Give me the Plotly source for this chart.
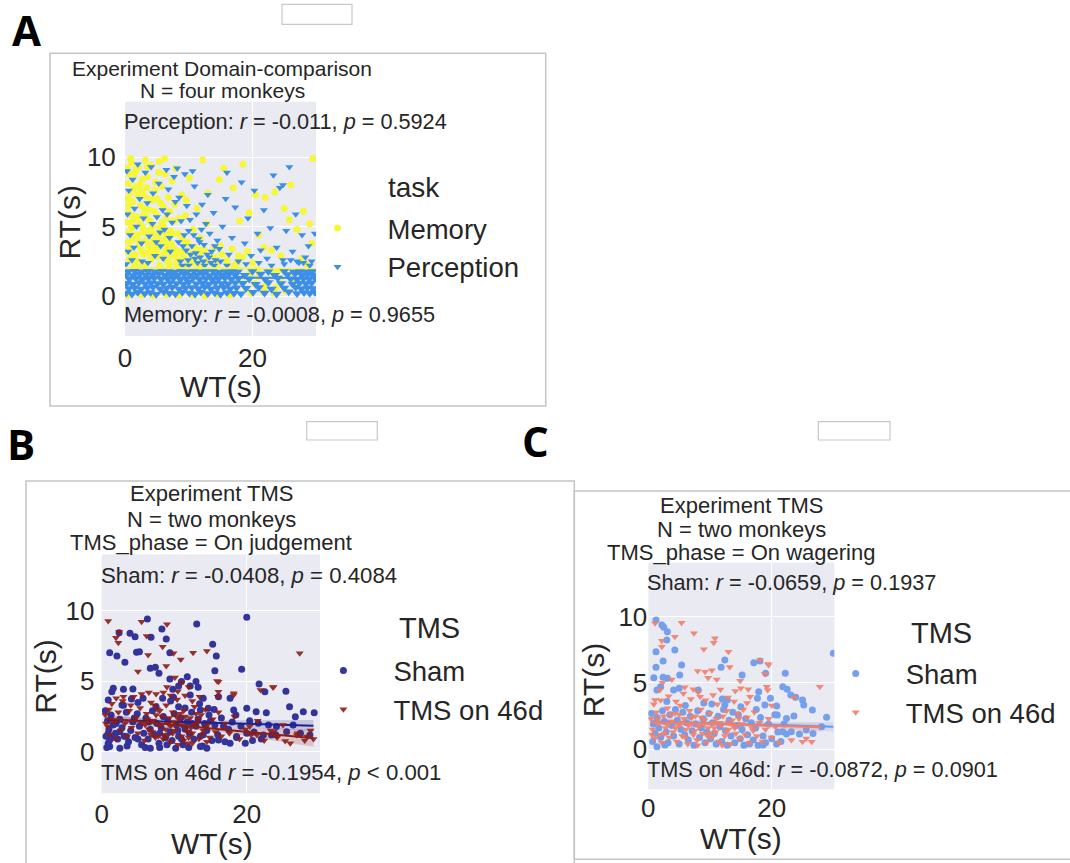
import plotly.graph_objects as go

W, H = 1070, 863

# ---------------- DATA ----------------
# Panel A: Experiment Domain-comparison (WT vs RT)
a_memory_upper = [
    (0.3, 9.2), (0.5, 8.1), (0.8, 7.4), (1.0, 9.6), (1.2, 6.8), (0.4, 6.0), (0.9, 5.2), (1.5, 8.8), (1.8, 7.9),
    (2.1, 9.3), (2.4, 6.5), (2.7, 8.4), (0.6, 4.6), (1.3, 4.1), (1.9, 5.7), (2.2, 3.6), (2.8, 4.9), (0.2, 3.2),
    (0.7, 2.6), (1.6, 3.0), (2.5, 2.4), (3.0, 7.2), (3.2, 9.8), (0.4, 7.0), (1.1, 2.9), (2.9, 5.8), (1.4, 5.5),
    (2.0, 4.4), (0.5, 3.9), (2.6, 3.3), (3.5, 8.6), (3.8, 6.2), (4.1, 9.4), (4.4, 5.1), (4.7, 7.6), (5.0, 4.3),
    (5.3, 8.9), (5.6, 6.7), (5.9, 3.8), (6.2, 9.9), (6.5, 5.6), (6.8, 7.1), (7.1, 4.7), (7.4, 8.3), (7.7, 3.4),
    (3.3, 4.0), (3.6, 3.1), (4.0, 2.6), (4.3, 6.9), (4.6, 3.7), (4.9, 5.9), (5.2, 2.8), (5.5, 4.9), (5.8, 5.3),
    (6.1, 3.0), (6.4, 4.1), (6.7, 2.5), (7.0, 6.1), (7.3, 2.9), (7.6, 5.4), (3.9, 5.4), (4.2, 4.6), (5.1, 3.4),
    (5.7, 7.9), (6.0, 6.4), (6.6, 3.6), (3.4, 7.8), (4.8, 8.2), (6.3, 8.8), (7.8, 6.6), (8.0, 9.2), (5.4, 9.7),
    (0.9, 9.9), (1.7, 9.1), (2.3, 8.0), (3.1, 6.3), (0.3, 5.3), (1.0, 4.9), (1.6, 4.4), (2.4, 5.2), (3.3, 5.7),
    (4.0, 4.8), (4.5, 4.0), (5.2, 4.4), (5.9, 4.6), (6.4, 3.3), (7.2, 3.8), (3.7, 3.6), (2.9, 3.0), (1.9, 2.5),
    (0.8, 3.5), (4.4, 2.9), (5.5, 2.2), (6.9, 2.3), (7.9, 3.0), (3.1, 2.2), (2.0, 7.3), (1.3, 7.7), (0.7, 8.8),
    (3.5, 9.3), (4.6, 6.1), (5.0, 7.0), (0.6, 6.5), (1.1, 5.8), (2.6, 7.5), (3.9, 7.0), (1.5, 2.2), (2.3, 3.9),
    (4.9, 3.1), (6.0, 5.0), (7.0, 3.3), (5.6, 3.9), (4.2, 3.3), (3.0, 4.6), (6.6, 4.4), (7.5, 4.5),
]
a_memory_sparse = [
    (8.3, 4.5), (8.6, 3.2), (8.9, 7.3), (9.2, 2.7), (9.5, 5.8), (9.8, 3.9), (10.1, 8.5), (10.4, 2.4), (10.7, 4.8),
    (11.0, 3.5), (11.3, 6.3), (11.6, 2.9), (8.5, 5.6), (9.0, 4.1), (9.6, 6.9), (10.2, 3.1), (11.8, 4.2), (12.2, 9.8),
    (12.5, 3.3), (8.1, 2.3), (13.0, 7.4), (14.0, 2.8), (15.0, 3.6), (15.5, 9.2), (16.0, 2.5),
    (17.0, 7.8), (18.0, 5.4), (18.5, 9.5), (19.5, 6.0), (20.5, 7.3),
    (21.0, 4.4), (22.0, 7.1), (23.0, 3.3), (23.5, 7.5), (24.5, 2.9), (25.0, 6.3),
    (26.0, 8.0), (27.0, 4.8), (28.0, 6.1), (28.5, 2.3), (29.0, 5.2), (29.5, 9.9),
    (17.8, 2.9), (21.8, 3.5), (25.8, 5.5), (27.8, 2.7), (29.3, 3.8), (12.8, 5.2), (14.8, 8.4),
    (8.2, 2.6), (9.0, 3.1), (9.7, 2.2), (10.5, 2.9), (11.3, 2.4), (12.0, 3.3), (12.8, 2.5), (13.6, 2.9), (14.4, 2.3),
    (15.2, 3.0), (16.0, 2.6), (16.8, 3.4), (17.6, 2.4), (18.4, 2.8), (19.2, 3.2), (20.0, 2.4), (9.4, 3.7), (11.9, 2.2),
    (14.0, 3.5), (17.2, 2.2),
]
a_memory_low = [
    (0.5, 0.05), (2.5, 0.1), (4.5, 0.0), (6.5, 0.1), (8.5, 0.05), (10.5, 0.1), (12.5, 0.0), (14.5, 0.1), (16.5, 0.05),
    (18.0, 1.1), (19.0, 0.5), (19.6, 1.6), (20.3, 0.9), (21.0, 1.4), (21.7, 0.3), (22.4, 1.0), (23.0, 1.7), (23.7, 0.6),
    (24.4, 1.2), (25.1, 0.4), (25.8, 1.5), (26.5, 0.9), (19.8, 0.2), (22.0, 0.7), (24.0, 1.8), (20.8, 1.9), (23.4, 0.2),
]
a_perception_band = [
    (0.2, 0.22), (1.1, 0.15), (2.0, 0.28), (3.1, 0.18), (4.0, 0.25), (4.9, 0.12), (6.1, 0.3), (7.0, 0.2), (7.9, 0.16),
    (9.0, 0.27), (10.1, 0.21), (11.0, 0.14), (11.9, 0.29), (13.0, 0.19), (14.1, 0.24), (15.0, 0.13), (16.0, 0.26),
    (17.1, 0.2), (18.2, 0.17), (20.1, 0.28), (21.9, 0.22), (23.8, 0.15), (25.7, 0.3), (27.0, 0.18), (28.1, 0.25),
    (29.0, 0.2), (29.8, 0.27),
    (0.6, 0.55), (1.5, 0.62), (2.5, 0.5), (3.5, 0.6), (4.4, 0.65), (5.5, 0.52), (6.5, 0.58), (7.4, 0.63), (8.5, 0.5),
    (9.5, 0.57), (10.5, 0.61), (11.5, 0.54), (12.5, 0.66), (13.5, 0.51), (14.5, 0.59), (15.5, 0.64), (16.5, 0.53),
    (17.5, 0.6), (19.0, 0.56), (21.0, 0.62), (23.0, 0.5), (25.0, 0.58), (26.8, 0.63), (27.7, 0.52), (28.6, 0.6),
    (29.5, 0.55),
    (0.3, 0.92), (1.2, 0.85), (2.2, 0.98), (3.2, 0.88), (4.1, 0.95), (5.1, 0.9), (6.0, 0.86), (7.1, 0.97), (8.1, 0.91),
    (9.2, 0.87), (10.0, 0.99), (11.2, 0.89), (12.2, 0.94), (13.2, 0.86), (14.2, 0.96), (15.2, 0.9), (16.2, 0.88),
    (17.3, 0.95), (18.5, 0.92), (20.5, 0.85), (22.5, 0.97), (24.5, 0.9), (26.3, 0.87), (27.4, 0.94), (28.4, 0.91),
    (29.3, 0.96),
    (0.7, 1.22), (1.7, 1.28), (2.7, 1.18), (3.7, 1.26), (4.6, 1.3), (5.7, 1.2), (6.7, 1.25), (7.6, 1.29), (8.7, 1.19),
    (9.7, 1.24), (10.7, 1.3), (11.7, 1.21), (12.7, 1.27), (13.7, 1.18), (14.7, 1.26), (15.7, 1.3), (16.7, 1.2),
    (17.8, 1.28), (19.5, 1.23), (22.0, 1.2), (24.0, 1.29), (26.0, 1.25), (27.0, 1.19), (28.0, 1.27), (28.9, 1.22),
    (29.8, 1.3),
    (0.2, 1.52), (1.3, 1.48), (2.3, 1.58), (3.3, 1.5), (4.3, 1.55), (5.3, 1.6), (6.3, 1.49), (7.3, 1.56), (8.3, 1.52),
    (9.3, 1.58), (10.3, 1.5), (11.3, 1.54), (12.3, 1.6), (13.3, 1.48), (14.3, 1.55), (15.3, 1.51), (16.3, 1.57),
    (17.3, 1.53), (18.8, 1.5), (21.3, 1.58), (23.5, 1.49), (25.5, 1.55), (26.7, 1.6), (27.8, 1.5), (28.7, 1.56),
    (29.6, 1.52),
    (0.5, 1.76), (1.5, 1.8), (2.6, 1.74), (3.6, 1.79), (4.7, 1.75), (5.8, 1.82), (6.8, 1.77), (7.8, 1.73), (8.8, 1.8),
    (9.8, 1.76), (10.8, 1.81), (11.8, 1.74), (12.8, 1.78), (13.8, 1.82), (14.8, 1.73), (15.8, 1.77), (16.8, 1.8),
    (17.7, 1.75), (20.0, 1.79), (22.5, 1.76), (25.0, 1.81), (26.5, 1.74), (27.5, 1.79), (28.5, 1.75), (29.4, 1.78),
]
a_perception_upper = [
    (0.3, 9.0), (0.6, 7.6), (0.4, 5.9), (0.8, 4.4), (0.5, 3.2), (1.2, 8.4), (1.5, 6.3), (1.8, 5.0), (1.1, 2.6),
    (2.0, 9.5), (2.3, 7.0), (2.6, 3.8), (2.9, 5.6), (0.2, 2.3), (1.4, 3.5), (2.7, 2.5), (3.2, 8.9), (3.5, 6.7),
    (3.8, 4.3), (4.1, 9.3), (4.4, 7.4), (4.7, 2.9), (5.0, 5.7), (5.3, 8.1), (5.6, 3.6), (5.9, 6.2), (6.2, 4.8),
    (6.5, 9.1), (6.8, 7.7), (7.1, 3.2), (7.4, 5.3), (7.7, 8.6), (3.6, 2.4), (4.9, 3.9), (6.0, 2.7), (7.0, 4.2),
    (7.9, 6.8), (4.3, 5.2), (5.5, 4.6), (6.6, 5.9), (8.2, 9.2), (8.5, 7.1), (8.8, 5.4), (9.1, 3.6), (9.4, 8.8),
    (9.7, 6.5), (10.0, 4.7), (10.3, 3.0), (10.6, 9.0), (10.9, 7.9), (11.2, 5.9), (11.5, 4.1), (11.8, 2.8),
    (12.1, 6.6), (12.4, 3.7), (12.7, 5.2), (13.0, 7.3), (13.3, 4.5), (13.6, 3.2), (13.9, 6.0), (14.2, 2.6),
    (14.5, 4.0), (14.8, 3.4), (8.7, 2.5), (9.3, 4.4), (9.9, 2.6), (10.5, 3.6), (11.1, 3.1), (11.7, 3.9), (12.3, 2.5),
    (12.9, 3.0), (13.5, 2.4), (14.1, 3.6), (10.8, 4.4), (12.0, 4.8), (9.6, 3.3), (13.2, 2.8), (11.4, 2.4),
    (10.2, 5.5), (8.4, 3.9), (15.3, 5.0), (15.8, 7.0), (16.3, 3.0), (16.8, 4.2), (17.3, 6.4), (17.8, 2.5),
    (18.3, 8.2), (18.8, 3.8), (19.3, 5.6), (19.8, 2.9), (20.3, 7.6), (20.8, 4.5), (21.3, 3.3), (21.8, 6.2),
    (22.3, 2.7), (22.8, 4.9), (23.3, 8.7), (23.8, 3.5), (24.3, 7.8), (24.8, 2.6), (25.3, 4.7), (25.8, 9.3),
    (26.3, 3.2), (26.8, 5.9), (27.3, 2.4), (27.8, 4.4), (28.3, 2.8), (28.8, 3.6), (29.3, 2.5), (29.8, 4.5),
    (24.8, 8.0), (16.0, 8.9), (19.0, 2.3), (21.0, 2.4), (23.0, 2.2), (25.0, 2.3), (27.0, 2.5), (29.0, 2.2),
    (10.0, 2.2), (11.0, 2.7), (12.5, 2.2), (14.0, 2.2), (15.0, 2.5), (16.0, 2.2), (9.0, 2.2), (26.0, 2.6), (28.0, 2.4),
]
a_memory_fit_x = [0.1, 29.9]
a_memory_fit_y = [2.02, 2.0]
a_perception_fit_x = [0.1, 29.9]
a_perception_fit_y = [1.35, 1.3]

# Panel B: Experiment TMS, TMS_phase = On judgement
b_sham_pts = [
    (6.3, 9.43), (20.0, 9.55), (13.1, 9.08), (8.3, 8.72), (8.9, 8.01), (3.9, 8.41), (4.6, 8.17), (2.4, 8.46),
    (6.8, 8.13), (1.1, 7.04), (2.1, 6.8), (4.8, 7.07), (5.2, 7.1), (3.2, 6.35), (9.4, 7.04), (15.3, 7.63),
    (15.8, 6.8), (6.7, 5.93), (7.4, 6.0), (7.9, 5.57), (19.3, 5.86), (15.6, 5.76), (9.4, 5.17), (11.8, 5.33),
    (21.7, 4.81), (22.5, 4.26), (25.4, 4.29), (27.8, 2.84), (29.3, 2.77), (25.9, 3.2), (26.7, 2.49), (22.7, 2.77),
    (21.3, 2.84), (18.2, 2.96), (20.0, 3.08), (17.7, 3.8), (16.1, 3.91), (1.6, 4.5), (1.4, 4.26), (3.0, 4.43),
    (4.3, 4.46), (12.2, 4.67), (13.0, 4.98), (13.3, 4.58), (11.0, 4.98), (10.6, 4.67), (9.8, 4.43), (12.2, 4.03),
    (9.9, 3.86), (0.9, 3.67), (2.8, 3.32), (4.1, 3.75), (5.7, 3.79), (8.4, 3.79), (10.6, 3.2), (14.0, 3.79),
    (13.6, 2.96), (14.7, 3.08), (21.6, 2.02), (22.3, 1.19), (23.4, 1.19), (24.1, 1.78), (25.5, 1.42), (26.4, 1.9),
    (27.4, 1.3), (28.7, 1.19), (20.0, 1.3), (18.6, 1.07), (17.7, 0.6), (16.1, 0.83), (14.5, 0.24), (13.6, 0.36),
    (10.2, 0.24), (6.7, 0.24), (2.5, 0.24), (1.1, 0.36), (0.9, 1.3), (1.1, 0.83), (2.5, 1.42), (3.4, 1.07),
    (0.5, 2.9), (0.8, 2.2), (1.0, 1.6), (0.6, 1.1), (0.9, 0.6), (1.3, 2.6), (1.6, 1.9), (1.9, 1.3), (2.2, 0.9),
    (2.5, 2.3), (2.8, 1.7), (3.1, 1.1), (3.4, 2.8), (3.7, 0.7), (4.0, 1.5), (4.3, 2.1), (4.6, 1.0), (4.9, 2.7),
    (5.2, 1.8), (5.5, 0.5), (5.8, 1.3), (6.1, 2.4), (6.4, 0.9), (6.7, 1.6), (7.0, 2.9), (7.3, 1.2), (7.6, 2.0),
    (7.9, 0.6), (8.2, 1.7), (8.5, 2.5), (8.8, 1.0), (9.1, 2.2), (9.4, 1.4), (9.7, 0.8), (10.0, 2.7), (10.3, 1.9),
    (10.6, 1.1), (10.9, 2.4), (11.2, 0.5), (11.5, 1.6), (11.8, 2.1), (12.1, 1.3), (12.4, 2.8), (12.7, 0.9),
    (13.0, 1.8), (13.3, 2.3), (13.6, 1.1), (13.9, 0.4), (14.2, 2.0), (14.5, 1.5), (14.8, 2.6), (15.2, 0.8),
    (15.6, 1.9), (16.0, 1.2), (16.5, 2.4), (17.0, 0.7), (17.5, 1.6), (18.0, 2.1), (18.6, 1.0), (19.2, 1.8),
    (19.8, 0.6), (20.4, 2.2), (21.0, 1.4), (22.0, 0.9), (23.0, 1.9), (24.0, 1.2), (3.0, 3.3), (5.0, 3.5),
    (7.5, 3.2), (9.5, 3.6), (11.5, 3.1), (13.5, 3.4), (15.5, 3.0), (6.0, 0.3), (8.0, 0.3), (12.0, 0.3),
    (0.7, 0.3), (1.5, 1.0), (2.0, 2.0), (3.5, 0.4), (4.5, 2.4), (5.0, 0.9), (6.5, 2.1), (8.0, 1.3), (9.0, 0.5),
    (10.5, 1.5), (11.0, 0.9), (12.5, 2.0), (14.0, 1.2), (15.0, 2.2), (16.8, 1.8), (18.5, 2.6), (20.8, 0.8),
]
b_tms_pts = [
    (0.9, 9.29), (5.5, 9.24), (9.0, 9.05), (2.4, 8.53), (1.97, 8.1), (2.3, 7.75), (6.2, 8.22), (8.4, 7.46),
    (9.9, 6.99), (12.6, 7.04), (14.5, 7.16), (27.3, 6.99), (6.4, 6.87), (10.9, 6.55), (5.0, 5.69), (8.9, 6.09),
    (15.9, 5.02), (23.6, 4.58), (21.9, 4.39), (16.1, 4.26), (18.2, 4.03), (10.1, 5.27), (16.0, 3.9), (25.3, 0.76),
    (28.3, 1.07), (26.9, 1.19), (23.7, 1.42), (20.4, 1.78), (21.4, 1.19), (16.1, 4.97), (18.2, 4.15), (23.7, 4.6),
    (0.5, 2.6), (0.8, 1.8), (1.1, 1.2), (1.4, 3.4), (1.7, 2.1), (2.0, 0.9), (2.3, 2.8), (2.6, 1.5), (2.9, 3.6),
    (3.2, 2.0), (3.5, 1.1), (3.8, 2.9), (4.1, 1.7), (4.4, 3.9), (4.7, 2.4), (5.0, 1.3), (5.3, 3.1), (5.6, 2.0),
    (5.9, 0.8), (6.2, 2.7), (6.5, 1.6), (6.8, 3.5), (7.1, 2.2), (7.4, 1.0), (7.7, 3.0), (8.0, 1.8), (8.3, 2.5),
    (8.6, 1.2), (8.9, 3.3), (9.2, 2.0), (9.5, 0.7), (9.8, 2.8), (10.1, 1.5), (10.4, 3.7), (10.7, 2.3), (11.0, 1.1),
    (11.3, 2.9), (11.6, 1.7), (11.9, 0.6), (12.2, 2.4), (12.5, 1.3), (12.8, 3.2), (13.1, 2.0), (13.4, 0.9),
    (13.7, 2.6), (14.0, 1.5), (14.3, 3.0), (14.6, 1.9), (14.9, 1.0), (15.3, 2.3), (15.7, 1.4), (16.1, 2.8),
    (16.5, 1.1), (17.0, 2.0), (17.6, 1.3), (18.3, 2.5), (19.0, 0.9), (19.8, 1.6), (20.6, 1.2), (21.5, 2.2),
    (22.4, 0.8), (23.3, 1.5), (24.2, 1.0), (25.0, 1.9), (26.0, 0.6), (27.0, 1.3), (28.0, 0.8), (28.8, 1.5),
    (29.2, 0.9), (6.0, 1.9), (7.0, 1.4), (8.0, 2.9), (9.0, 1.1), (10.0, 2.1), (11.0, 1.9), (12.0, 1.0),
    (13.0, 2.7), (7.5, 2.6), (9.5, 1.8), (11.5, 2.5), (8.5, 0.9), (10.5, 0.5), (12.5, 0.6), (14.5, 0.7),
    (3.0, 3.9), (5.5, 4.1), (6.5, 4.2), (7.5, 4.1), (8.5, 4.2), (9.5, 4.0), (10.5, 4.3), (11.5, 4.0), (2.0, 3.8),
    (4.0, 3.3), (12.5, 3.6), (13.5, 3.9), (9.0, 4.6), (11.0, 4.9), (12.0, 4.6), (1.0, 3.0), (0.6, 2.0),
    (6.3, 2.3), (7.8, 1.1), (8.8, 1.6), (9.8, 1.3), (10.8, 2.7), (11.8, 1.4), (12.8, 1.9), (13.8, 1.2),
    (6.8, 1.2), (7.3, 3.3), (9.3, 2.4), (10.3, 2.5), (11.3, 0.8), (12.3, 1.7), (13.3, 2.3), (14.3, 1.7),
]
b_sham_fit_x = [0.8, 15.0, 29.2]
b_sham_fit_y = [2.25, 2.05, 1.85]
b_sham_lo = [1.95, 1.88, 1.45]
b_sham_hi = [2.55, 2.22, 2.25]
b_tms_fit_x = [0.8, 15.0, 29.2]
b_tms_fit_y = [2.35, 1.65, 0.95]
b_tms_lo = [2.05, 1.5, 0.35]
b_tms_hi = [2.65, 1.8, 1.55]

# Panel C: Experiment TMS, TMS_phase = On wagering
c_sham_pts = [
    (1.25, 9.74), (2.2, 9.37), (2.5, 9.19), (3.1, 8.86), (3.0, 8.24), (1.25, 7.36), (4.3, 7.48), (30.0, 7.23),
    (2.4, 6.65), (1.25, 6.18), (12.4, 6.73), (11.8, 6.18), (5.4, 6.35), (0.9, 5.4), (2.4, 5.43), (3.1, 5.35),
    (5.1, 5.6), (17.1, 6.53), (18.1, 6.65), (19.0, 5.73), (15.2, 5.6), (22.2, 5.73), (21.8, 4.72), (22.5, 4.52),
    (23.1, 4.09), (23.9, 3.92), (25.0, 3.72), (26.6, 2.96), (28.9, 2.41), (25.2, 3.34), (1.4, 4.47), (2.0, 4.72),
    (4.1, 4.47), (5.0, 4.6), (8.1, 4.47), (10.3, 3.41), (12.4, 3.34), (12.8, 3.72), (17.9, 4.34), (17.7, 3.84),
    (19.8, 3.84), (20.8, 3.26), (18.9, 3.34), (23.6, 2.51), (22.4, 2.33), (20.9, 2.58), (28.1, 1.7), (26.7, 1.2),
    (25.6, 1.45), (24.5, 1.15), (23.2, 1.33), (22.4, 1.15), (21.8, 1.33), (20.8, 0.4), (18.6, 0.32), (1.4, 0.2),
    (2.7, 0.32),
    (0.5, 2.7), (0.8, 1.9), (1.1, 1.2), (0.7, 0.6), (1.4, 2.4), (1.7, 1.6), (2.0, 0.9), (2.3, 2.9), (2.6, 2.1),
    (2.9, 1.3), (3.2, 0.5), (3.5, 2.6), (3.8, 1.8), (4.1, 1.0), (4.4, 3.0), (4.7, 2.2), (5.0, 0.4), (5.3, 1.5),
    (5.6, 2.8), (5.9, 1.1), (6.2, 2.0), (6.5, 0.7), (6.8, 2.5), (7.1, 1.4), (7.4, 0.3), (7.7, 1.9), (8.0, 2.9),
    (8.3, 0.9), (8.6, 1.6), (8.9, 2.3), (9.2, 0.5), (9.5, 1.3), (9.8, 2.7), (10.1, 0.8), (10.4, 2.0), (10.7, 1.2),
    (11.0, 0.4), (11.3, 2.5), (11.6, 1.7), (11.9, 0.6), (12.2, 3.0), (12.5, 1.4), (12.8, 0.3), (13.1, 2.2),
    (13.4, 1.0), (13.7, 2.8), (14.0, 0.5), (14.3, 1.8), (14.6, 2.6), (14.9, 0.8), (15.2, 1.5), (15.5, 0.3),
    (15.8, 2.3), (16.1, 1.1), (16.4, 0.4), (16.7, 2.0), (17.0, 0.7), (17.4, 1.6), (17.8, 0.3), (18.2, 2.4),
    (18.6, 1.0), (19.0, 0.5), (19.5, 1.9), (20.0, 0.8), (20.5, 2.6), (21.0, 1.3), (21.5, 0.6), (22.0, 1.9),
    (3.0, 3.6), (6.0, 3.3), (9.0, 3.5), (12.0, 3.8), (15.0, 3.2), (17.5, 3.0),
]
c_tms_pts = [
    (1.09, 9.5), (5.4, 9.54), (7.4, 8.74), (10.8, 8.36), (10.6, 8.03), (9.0, 7.54), (4.3, 8.49), (2.2, 8.18),
    (2.2, 7.73), (13.0, 7.36), (18.1, 6.73), (19.4, 6.43), (27.8, 4.72), (8.0, 5.9), (10.3, 5.95), (9.7, 5.4),
    (11.1, 5.27), (14.9, 5.17), (16.2, 4.52), (19.35, 4.47), (19.2, 4.72), (5.9, 4.67), (7.3, 4.52), (8.4, 3.97),
    (1.09, 3.72), (1.9, 4.47), (3.8, 5.27), (2.3, 5.02), (16.5, 3.97), (20.0, 3.3), (23.2, 0.7), (26.5, 0.57),
    (25.6, 0.82), (25.0, 0.57), (18.9, 5.7), (19.5, 6.35), (13.2, 6.2), (9.2, 5.85), (23.6, 3.9),
    (0.4, 2.3), (0.7, 1.5), (1.0, 0.8), (1.3, 2.8), (1.6, 1.9), (1.9, 1.1), (2.2, 0.5), (2.5, 2.5), (2.8, 1.6),
    (3.1, 3.1), (3.4, 0.9), (3.7, 2.1), (4.0, 1.3), (4.3, 2.7), (4.6, 0.6), (4.9, 1.8), (5.2, 3.3), (5.5, 1.0),
    (5.8, 2.3), (6.1, 1.5), (6.4, 0.4), (6.7, 2.9), (7.0, 1.9), (7.3, 1.1), (7.6, 2.5), (7.9, 0.7), (8.2, 1.7),
    (8.5, 3.0), (8.8, 1.2), (9.1, 2.2), (9.4, 0.5), (9.7, 1.6), (10.0, 2.7), (10.3, 0.9), (10.6, 2.0), (10.9, 1.3),
    (11.2, 3.4), (11.5, 0.6), (11.8, 1.8), (12.1, 2.5), (12.4, 1.0), (12.7, 2.9), (13.0, 1.5), (13.3, 0.4),
    (13.6, 2.2), (13.9, 3.6), (14.2, 1.2), (14.5, 2.7), (14.8, 0.8), (15.1, 1.9), (15.4, 3.0), (15.7, 1.1),
    (16.0, 2.4), (16.4, 0.5), (16.8, 1.6), (17.2, 2.8), (17.6, 1.0), (18.0, 2.0), (18.5, 0.6), (19.0, 1.5),
    (19.5, 2.3), (20.0, 0.9), (20.6, 1.7), (21.2, 0.5), (0.9, 3.4), (2.0, 3.7), (3.3, 4.0), (4.5, 3.6), (5.7, 4.2),
    (6.9, 3.8), (8.1, 4.3), (9.3, 3.7), (10.5, 4.1), (11.7, 4.5), (12.9, 3.9), (14.1, 4.4), (6.0, 0.9), (7.0, 2.4),
    (8.0, 0.3), (9.0, 1.9), (10.0, 1.2), (11.0, 2.3), (12.0, 0.3), (13.0, 2.0), (3.0, 1.9), (5.0, 2.6), (14.0, 1.6),
    (16.0, 3.5), (15.0, 4.6), (0.6, 1.1), (1.5, 2.3), (2.6, 1.2), (3.6, 2.6), (4.4, 1.6), (5.4, 2.0), (6.5, 1.8),
    (7.5, 1.4), (8.6, 2.4), (9.6, 1.0), (10.7, 1.6), (11.6, 2.0), (12.6, 1.3), (13.7, 1.8), (14.7, 2.3), (17.0, 1.4),
]
c_sham_fit_x = [0.5, 15.0, 30.0]
c_sham_fit_y = [2.12, 1.91, 1.7]
c_sham_lo = [1.85, 1.76, 1.35]
c_sham_hi = [2.4, 2.06, 2.05]
c_tms_fit_x = [0.5, 15.0, 28.0]
c_tms_fit_y = [2.05, 1.85, 1.66]
c_tms_lo = [1.8, 1.7, 1.3]
c_tms_hi = [2.3, 2.0, 2.0]

x_ticks = [0, 20]
y_ticks = [0, 5, 10]

# ---------------- STYLE ----------------
FONT = "Liberation Sans, Arial, sans-serif"
TXT = "#262626"
BG = "#EAEAF2"
C_MEM = "#F7F73A"
C_PER = "#3D8EE6"
C_BSHAM = "#202092"
C_BTMS = "#8C1D18"
C_CSHAM = "#6A97EC"
C_CTMS = "#F0806E"


def px(x):
    return x / W


def py(y):
    return 1 - y / H


def xs(pts):
    return [p[0] for p in pts]


def ys(pts):
    return [p[1] for p in pts]


fig = go.Figure()


def scatter(pts, color, symbol, size, name, xa, ya, legend, showlegend=True, opacity=0.9):
    fig.add_trace(go.Scatter(
        x=xs(pts), y=ys(pts), mode="markers", name=name,
        marker=dict(color=color, symbol=symbol, size=size, line=dict(width=0)),
        opacity=opacity, xaxis=xa, yaxis=ya, legend=legend, showlegend=showlegend,
        hoverinfo="skip"))


def fit(xv, yv, lo, hi, color, band_color, xa, ya):
    if lo is not None:
        fig.add_trace(go.Scatter(x=xv + xv[::-1], y=hi + lo[::-1], fill="toself",
                                 fillcolor=band_color, line=dict(width=0), mode="lines",
                                 xaxis=xa, yaxis=ya, showlegend=False, hoverinfo="skip"))
    fig.add_trace(go.Scatter(x=xv, y=yv, mode="lines", line=dict(color=color, width=2),
                             xaxis=xa, yaxis=ya, showlegend=False, hoverinfo="skip"))


# Panel A
scatter(a_memory_low + a_memory_upper + a_memory_sparse, C_MEM, "circle", 7, "Memory", "x", "y", "legend", opacity=1)
scatter(a_perception_band, C_PER, "triangle-down", 9, "Perception", "x", "y", "legend", showlegend=False, opacity=1)
scatter(a_perception_upper, C_PER, "triangle-down", 7, "Perception", "x", "y", "legend", opacity=1)
fit(a_perception_fit_x, a_perception_fit_y, None, None, C_PER, None, "x", "y")
fit(a_memory_fit_x, a_memory_fit_y, None, None, C_MEM, None, "x", "y")

# Panel B
scatter(b_sham_pts, C_BSHAM, "circle", 7, "Sham", "x2", "y2", "legend2")
fit(b_sham_fit_x, b_sham_fit_y, b_sham_lo, b_sham_hi, C_BSHAM, "rgba(32,32,146,0.18)", "x2", "y2")
scatter(b_tms_pts, C_BTMS, "triangle-down", 7, "TMS on 46d", "x2", "y2", "legend2")
fit(b_tms_fit_x, b_tms_fit_y, b_tms_lo, b_tms_hi, C_BTMS, "rgba(140,29,24,0.18)", "x2", "y2")

# Panel C
scatter(c_sham_pts, C_CSHAM, "circle", 7, "Sham", "x3", "y3", "legend3")
fit(c_sham_fit_x, c_sham_fit_y, c_sham_lo, c_sham_hi, C_CSHAM, "rgba(106,151,236,0.18)", "x3", "y3")
scatter(c_tms_pts, C_CTMS, "triangle-down", 7, "TMS on 46d", "x3", "y3", "legend3")
fit(c_tms_fit_x, c_tms_fit_y, c_tms_lo, c_tms_hi, C_CTMS, "rgba(240,128,110,0.18)", "x3", "y3")

# axes geometry (pixel boxes of plot areas)
panels = {
    "": dict(x0=125, x1=316, y0=101.7, y1=336, xr=[0, 29.98], yr=[-2.88, 14.0], yl=3, xs=4),
    "2": dict(x0=101.7, x1=320, y0=554.3, y1=793.3, xr=[0, 30.1], yr=[-2.96, 14.03], yl=1, xs=3),
    "3": dict(x0=648.3, x1=834.3, y0=562.7, y1=789.3, xr=[0, 30.15], yr=[-3.01, 14.06], yl=0, xs=1),
}
layout_axes = {}
for k, p in panels.items():
    layout_axes["xaxis" + k] = dict(
        domain=[px(p["x0"]), px(p["x1"])], range=p["xr"], anchor="y" + k,
        tickvals=x_ticks, showgrid=True, gridcolor="white", gridwidth=1.2, zeroline=False,
        showline=False, ticks="", ticklabelstandoff=p["xs"], automargin=False,
        tickfont=dict(family=FONT, size=26, color=TXT))
    layout_axes["yaxis" + k] = dict(
        domain=[py(p["y1"]), py(p["y0"])], range=p["yr"], anchor="x" + k,
        tickvals=y_ticks, showgrid=True, gridcolor="white", gridwidth=1.2, zeroline=False,
        showline=False, ticks="outside" if p["yl"] else "", ticklen=max(p["yl"], 1),
        tickcolor="rgba(0,0,0,0)", automargin=False,
        tickfont=dict(family=FONT, size=26, color=TXT))

ann = []


def text(x, y, s, size, xanchor="center", angle=0, color=TXT, family=FONT):
    ann.append(dict(x=px(x), y=py(y), xref="paper", yref="paper", text=s, showarrow=False,
                    xanchor=xanchor, yanchor="middle", textangle=angle, borderpad=0,
                    font=dict(family=family, size=size, color=color)))


# panel letters
LET = "Open Sans, DejaVu Sans, sans-serif"
text(26, 29, "<b>A</b>", 42, color="black", family=LET)
text(20.5, 443, "<b>B</b>", 42, color="black", family=LET)
text(535, 441, "<b>C</b>", 42, color="black", family=LET)

# Panel A texts
text(222, 68.3, "Experiment Domain-comparison", 21)
text(222, 90, "N = four monkeys", 21)
text(123, 121.7, "Perception: <i>r</i> = -0.011, <i>p</i> = 0.5924", 21.7, xanchor="left")
text(123, 315, "Memory: <i>r</i> = -0.0008, <i>p</i> = 0.9655", 21.7, xanchor="left")
text(69, 222.5, "RT(s)", 30, angle=-90)
text(220.8, 386.7, "WT(s)", 30)
text(387, 188, "task", 28, xanchor="left")

# Panel B texts
text(211, 494, "Experiment TMS", 22)
text(211, 519.3, "N = two monkeys", 22)
text(211, 542.3, "TMS_phase = On judgement", 22)
text(99.7, 575, "Sham: <i>r</i> = -0.0408, <i>p</i> = 0.4084", 22.2, xanchor="left")
text(99.7, 772.7, "TMS on 46d <i>r</i> = -0.1954, <i>p</i> < 0.001", 22.2, xanchor="left")
text(46, 676.7, "RT(s)", 30, angle=-90)
text(211.7, 843.3, "WT(s)", 30)
text(398, 628.3, "TMS", 29, xanchor="left")

# Panel C texts
text(741.3, 505, "Experiment TMS", 22)
text(741.3, 529, "N = two monkeys", 22)
text(741.3, 552.3, "TMS_phase = On wagering", 22)
text(646.3, 582.3, "Sham: <i>r</i> = -0.0659, <i>p</i> = 0.1937", 21.7, xanchor="left")
text(646.3, 769.3, "TMS on 46d: <i>r</i> = -0.0872, <i>p</i> = 0.0901", 21.7, xanchor="left")
text(593.3, 680, "RT(s)", 30, angle=-90)
text(740.7, 838.3, "WT(s)", 30)
text(909.7, 633.3, "TMS", 29, xanchor="left")

# frames and empty boxes
FR = "#C4C4C4"
shapes = []


def rect(x0, y0, x1, y1, color=FR, width=1.5):
    shapes.append(dict(type="rect", xref="paper", yref="paper", x0=px(x0), x1=px(x1),
                       y0=py(y1), y1=py(y0), line=dict(color=color, width=width),
                       fillcolor="rgba(0,0,0,0)", layer="below"))


rect(50, 53.3, 545.7, 406)
rect(26, 481, 574.3, 900)
rect(574.3, 491, 1100, 859.3)
rect(282, 4.3, 352, 24.3, color="#C8C8C8", width=1.2)
rect(306.7, 421.7, 377.3, 440, color="#C8C8C8", width=1.2)
rect(818.3, 421.7, 890, 440, color="#C8C8C8", width=1.2)

LEGFONT = dict(family=FONT, size=27.5, color=TXT)
leg_common = dict(bgcolor="rgba(0,0,0,0)", borderwidth=0, font=LEGFONT, itemwidth=90,
                  xanchor="left", yanchor="top", tracegroupgap=0, itemclick=False)

fig.update_layout(
    width=W, height=H, margin=dict(l=0, r=0, t=0, b=0, autoexpand=False),
    paper_bgcolor="white", plot_bgcolor=BG,
    annotations=ann, shapes=shapes,
    legend=dict(x=px(287.5), y=py(203.5), **leg_common),
    legend2=dict(x=px(293.4), y=py(646), **leg_common),
    legend3=dict(x=px(805.7), y=py(649), **leg_common),
    **layout_axes,
)

fig.write_html("out.html")
